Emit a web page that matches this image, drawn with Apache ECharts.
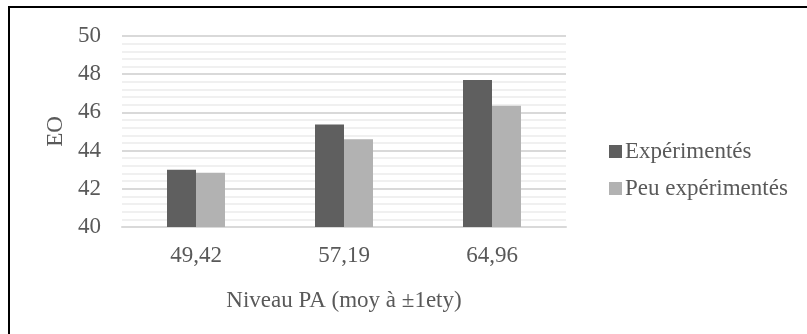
<!DOCTYPE html>
<html>
<head>
<meta charset="utf-8">
<script src="https://cdn.jsdelivr.net/npm/echarts@6/dist/echarts.min.js"></script>
<style>
html,body{margin:0;padding:0;background:#fff;}
#c{width:807px;height:334px;}
</style>
</head>
<body>
<div id="c"></div>
<script>
const categories = ['49,42', '57,19', '64,96'];
const experimentes = [43.0, 45.36, 47.7];
const peuExperimentes = [42.84, 44.59, 46.35];
const yTicks = [40, 42, 44, 46, 48, 50];
const seriesNames = ['Expérimentés', 'Peu expérimentés'];

const font = 'Liberation Serif';
const txt = '#595959';
const chart = echarts.init(document.getElementById('c'));
chart.setOption({
  animation: false,
  backgroundColor: '#fff',
  grid: { left: 122, right: 241, top: 36, bottom: 107 },
  legend: {
    orient: 'vertical',
    left: 604,
    top: 135,
    itemWidth: 13,
    itemHeight: 13,
    itemGap: 14,
    icon: 'rect',
    textStyle: { fontFamily: font, fontSize: 23, color: txt, padding: [0, 0, 0, -2] },
    data: seriesNames
  },
  xAxis: {
    type: 'category',
    data: categories,
    axisLine: { lineStyle: { color: '#d9d9d9', width: 2 } },
    axisTick: { show: false },
    axisLabel: { fontFamily: font, fontSize: 23, color: txt, margin: 17 },
    name: 'Niveau PA (moy à ±1ety)',
    nameLocation: 'middle',
    nameGap: 62,
    nameTextStyle: { fontFamily: font, fontSize: 23, color: txt }
  },
  yAxis: {
    type: 'value',
    min: yTicks[0],
    max: yTicks[yTicks.length - 1],
    interval: 2,
    axisLine: { show: false },
    axisTick: { show: false },
    axisLabel: { fontFamily: font, fontSize: 23, color: txt, margin: 21 },
    splitLine: { lineStyle: { color: '#d9d9d9', width: 2 } },
    minorTick: { show: false, splitNumber: 5 },
    minorSplitLine: { show: true, lineStyle: { color: '#f0f0f0', width: 2 } },
    name: 'EO',
    nameLocation: 'middle',
    nameGap: 54,
    nameTextStyle: { fontFamily: font, fontSize: 23, color: txt }
  },
  series: [
    {
      name: seriesNames[0], type: 'bar', data: experimentes,
      barWidth: 29, barGap: '0%',
      itemStyle: { color: '#5f5f5f' }
    },
    {
      name: seriesNames[1], type: 'bar', data: peuExperimentes,
      barWidth: 29, barGap: '0%',
      itemStyle: { color: '#b2b2b2' }
    }
  ],
  graphic: [
    { type: 'line', shape: { x1: 9, y1: 7, x2: 807, y2: 7 }, style: { stroke: '#000', lineWidth: 2 } },
    { type: 'line', shape: { x1: 9, y1: 6, x2: 9, y2: 334 }, style: { stroke: '#000', lineWidth: 2 } }
  ]
});
</script>
</body>
</html>
